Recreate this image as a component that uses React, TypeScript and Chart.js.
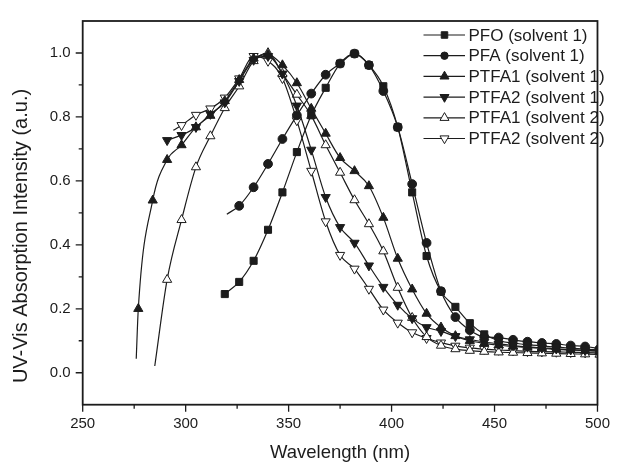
import React, { useEffect, useRef } from "react";
import { Chart, registerables } from "chart.js";
import { drawPoint } from "chart.js/helpers";

Chart.register(...registerables);

// ---------- data ----------
const pfoNm = [319, 326, 333, 340, 347, 354, 361, 368, 375, 382, 389, 396, 403, 410, 417, 424, 431, 438, 445, 452, 459, 466, 473, 480, 487, 494, 501];
const pfoAbs = [0.246, 0.284, 0.35, 0.447, 0.564, 0.69, 0.805, 0.891, 0.967, 0.998, 0.962, 0.896, 0.768, 0.564, 0.365, 0.254, 0.206, 0.155, 0.12, 0.1, 0.093, 0.088, 0.084, 0.08, 0.077, 0.074, 0.071];

const pfaNm = [320, 326, 333, 340, 347, 354, 361, 368, 375, 382, 389, 396, 403, 410, 417, 424, 431, 438, 445, 452, 459, 466, 473, 480, 487, 494, 501];
const pfaAbs = [0.496, 0.522, 0.58, 0.653, 0.731, 0.805, 0.873, 0.932, 0.967, 0.998, 0.962, 0.881, 0.768, 0.59, 0.406, 0.255, 0.174, 0.133, 0.112, 0.11, 0.103, 0.097, 0.093, 0.09, 0.085, 0.082, 0.075];

const ptfa1s1Nm = [276, 277, 284, 291, 298, 305, 312, 319, 326, 333, 340, 347, 354, 361, 368, 375, 382, 389, 396, 403, 410, 417, 424, 431, 438, 445, 452, 459, 466, 473, 480, 487, 494, 501];
const ptfa1s1Abs = [0.044, 0.2, 0.539, 0.666, 0.712, 0.768, 0.804, 0.85, 0.916, 0.983, 0.995, 0.962, 0.906, 0.826, 0.748, 0.672, 0.631, 0.584, 0.485, 0.357, 0.261, 0.185, 0.142, 0.115, 0.1, 0.092, 0.086, 0.082, 0.079, 0.076, 0.073, 0.071, 0.069, 0.067];

const ptfa2s1Nm = [291, 298, 305, 312, 319, 326, 333, 340, 347, 354, 361, 368, 375, 382, 389, 396, 403, 410, 417, 424, 431, 438, 445, 452, 459, 466, 473, 480, 487, 494, 501];
const ptfa2s1Abs = [0.727, 0.743, 0.768, 0.809, 0.845, 0.912, 0.978, 0.99, 0.935, 0.835, 0.697, 0.549, 0.455, 0.406, 0.335, 0.268, 0.212, 0.17, 0.142, 0.13, 0.114, 0.104, 0.096, 0.09, 0.085, 0.081, 0.078, 0.075, 0.072, 0.07, 0.068];

const ptfa1s2Nm = [285, 291, 298, 305, 312, 319, 326, 333, 340, 347, 354, 361, 368, 375, 382, 389, 396, 403, 410, 417, 424, 431, 438, 445, 452, 459, 466, 473, 480, 487, 494, 501];
const ptfa1s2Abs = [0.021, 0.291, 0.478, 0.643, 0.74, 0.828, 0.896, 0.975, 1.0, 0.935, 0.87, 0.804, 0.712, 0.626, 0.54, 0.465, 0.38, 0.266, 0.172, 0.112, 0.085, 0.074, 0.069, 0.066, 0.064, 0.063, 0.062, 0.061, 0.06, 0.059, 0.058, 0.057];

const ptfa2s2Nm = [294, 298, 305, 312, 319, 326, 333, 340, 347, 354, 361, 368, 375, 382, 389, 396, 403, 410, 417, 424, 431, 438, 445, 452, 459, 466, 473, 480, 487, 494, 501];
const ptfa2s2Abs = [0.758, 0.774, 0.806, 0.826, 0.86, 0.92, 0.99, 0.975, 0.921, 0.789, 0.631, 0.473, 0.368, 0.325, 0.262, 0.197, 0.156, 0.126, 0.108, 0.094, 0.084, 0.078, 0.074, 0.071, 0.069, 0.067, 0.066, 0.065, 0.064, 0.063, 0.062];

const seriesLabels = [
  "PFO (solvent 1)",
  "PFA (solvent 1)",
  "PTFA1 (solvent 1)",
  "PTFA2 (solvent 1)",
  "PTFA1 (solvent 2)",
  "PTFA2 (solvent 2)",
];

const xMajorTicks = [250, 300, 350, 400, 450, 500];
const xMinorTicks = [275, 325, 375, 425, 475];
const yMajorTicks = [0.0, 0.2, 0.4, 0.6, 0.8, 1.0];
const yMinorTicks = [0.1, 0.3, 0.5, 0.7, 0.9];

const xTitle = "Wavelength (nm)";
const yTitle = "UV-Vis Absorption Intensity (a.u.)";

// ---------- styling ----------
const INK = "#1c1c1c";
const FONT = '"Liberation Sans", Arial, Helvetica, sans-serif';

type Style = { pointStyle: string; rotation: number; fill: string; radius: number; legendRadius: number; lead: number };
const styles: Style[] = [
  { pointStyle: "rect", rotation: 0, fill: INK, radius: 5, legendRadius: 4.6, lead: 0 },
  { pointStyle: "circle", rotation: 0, fill: INK, radius: 4.4, legendRadius: 3.7, lead: 1 },
  { pointStyle: "triangle", rotation: 0, fill: INK, radius: 5.3, legendRadius: 5.2, lead: 1 },
  { pointStyle: "triangle", rotation: 180, fill: INK, radius: 5.3, legendRadius: 5.2, lead: 0 },
  { pointStyle: "triangle", rotation: 0, fill: "#ffffff", radius: 5.3, legendRadius: 5.2, lead: 1 },
  { pointStyle: "triangle", rotation: 180, fill: "#ffffff", radius: 5.3, legendRadius: 5.2, lead: 1 },
];

const seriesData = [
  [pfoNm, pfoAbs],
  [pfaNm, pfaAbs],
  [ptfa1s1Nm, ptfa1s1Abs],
  [ptfa2s1Nm, ptfa2s1Abs],
  [ptfa1s2Nm, ptfa1s2Abs],
  [ptfa2s2Nm, ptfa2s2Abs],
];

const decorPlugin = {
  id: "decor",
  afterDatasetsDraw(chart: any) {
    const { ctx, chartArea: a, scales } = chart;
    const xs = scales.x;
    const ys = scales.y;
    ctx.save();
    // frame
    ctx.strokeStyle = INK;
    ctx.lineWidth = 1.8;
    ctx.strokeRect(a.left, a.top, a.right - a.left, a.bottom - a.top);
    // ticks
    ctx.lineWidth = 1.3;
    ctx.beginPath();
    for (const v of xMajorTicks) {
      const p = xs.getPixelForValue(v);
      ctx.moveTo(p, a.bottom);
      ctx.lineTo(p, a.bottom + 7);
    }
    for (const v of xMinorTicks) {
      const p = xs.getPixelForValue(v);
      ctx.moveTo(p, a.bottom);
      ctx.lineTo(p, a.bottom + 4);
    }
    for (const v of yMajorTicks) {
      const p = ys.getPixelForValue(v);
      ctx.moveTo(a.left, p);
      ctx.lineTo(a.left - 7, p);
    }
    for (const v of yMinorTicks) {
      const p = ys.getPixelForValue(v);
      ctx.moveTo(a.left, p);
      ctx.lineTo(a.left - 4, p);
    }
    ctx.stroke();

    // axis titles
    ctx.fillStyle = INK;
    ctx.textAlign = "center";
    ctx.textBaseline = "middle";
    ctx.font = `18.5px ${FONT}`;
    ctx.fillText(xTitle, (a.left + a.right) / 2, a.bottom + 48);
    ctx.save();
    ctx.translate(21, 236);
    ctx.rotate(-Math.PI / 2);
    ctx.font = `20px ${FONT}`;
    ctx.fillText(yTitle, 0, 0);
    ctx.restore();

    // legend
    const lx0 = 423.5;
    const lx1 = 465;
    const mx = 444.5;
    const tx = 468.5;
    const rowY0 = 35;
    const rowStep = 20.7;
    ctx.font = `17px ${FONT}`;
    ctx.textAlign = "left";
    seriesLabels.forEach((label, i) => {
      const y = rowY0 + i * rowStep;
      const st = styles[i];
      ctx.strokeStyle = INK;
      ctx.lineWidth = 1.2;
      ctx.beginPath();
      ctx.moveTo(lx0, y);
      ctx.lineTo(lx1, y);
      ctx.stroke();
      ctx.fillStyle = st.fill;
      ctx.strokeStyle = INK;
      ctx.lineWidth = 1;
      drawPoint(ctx, { pointStyle: st.pointStyle as any, rotation: st.rotation, radius: st.legendRadius, borderWidth: 1 }, mx, y);
      ctx.fillStyle = INK;
      ctx.fillText(label, tx, y + 1);
    });
    ctx.restore();
  },
};

export default function App() {
  const ref = useRef<HTMLCanvasElement>(null);
  useEffect(() => {
    const datasets = seriesData.map(([nm, abs], i) => {
      const st = styles[i];
      return {
        label: seriesLabels[i],
        data: nm.map((x, j) => ({ x, y: abs[j] })),
        borderColor: INK,
        borderWidth: 1.2,
        backgroundColor: st.fill,
        pointBackgroundColor: st.fill,
        pointBorderColor: INK,
        pointBorderWidth: 1,
        pointStyle: st.pointStyle,
        pointRotation: st.rotation,
        pointRadius: (c: any) => (c.dataIndex < st.lead ? 0 : st.radius),
        pointHoverRadius: (c: any) => (c.dataIndex < st.lead ? 0 : st.radius),
        cubicInterpolationMode: "monotone",
        fill: false,
      };
    });
    const tickFont = { family: FONT, size: 15 };
    const chart = new Chart(ref.current as HTMLCanvasElement, {
      type: "line",
      data: { datasets: datasets as any },
      options: {
        animation: false,
        responsive: false,
        devicePixelRatio: 1,
        layout: { padding: { left: 0, top: 14, right: 12.5, bottom: 0 } },
        plugins: { legend: { display: false }, tooltip: { enabled: false } },
        events: [],
        scales: {
          x: {
            type: "linear",
            min: 250,
            max: 500,
            afterBuildTicks: (s: any) => {
              s.ticks = xMajorTicks.map((v) => ({ value: v }));
            },
            afterFit: (s: any) => {
              s.height = 58.3;
            },
            ticks: {
              font: tickFont,
              color: INK,
              padding: 10,
              maxRotation: 0,
              autoSkip: false,
              callback: (v: any) => String(v),
            },
            grid: { display: true, drawOnChartArea: false, drawTicks: false },
            border: { display: false },
          },
          y: {
            type: "linear",
            min: -0.1,
            max: 1.1,
            afterBuildTicks: (s: any) => {
              s.ticks = yMajorTicks.map((v) => ({ value: v }));
            },
            afterFit: (s: any) => {
              s.width = 82.7;
            },
            ticks: {
              font: tickFont,
              color: INK,
              padding: 12,
              autoSkip: false,
              callback: (v: any) => Number(v).toFixed(1),
            },
            grid: { display: true, drawOnChartArea: false, drawTicks: false },
            border: { display: false },
          },
        },
      } as any,
      plugins: [decorPlugin],
    });
    return () => chart.destroy();
  }, []);
  return (
    <div style={{ position: "fixed", left: 0, top: 0, width: 620, height: 463, background: "#ffffff" }}>
      <canvas ref={ref} width={620} height={463} style={{ display: "block" }} />
    </div>
  );
}
